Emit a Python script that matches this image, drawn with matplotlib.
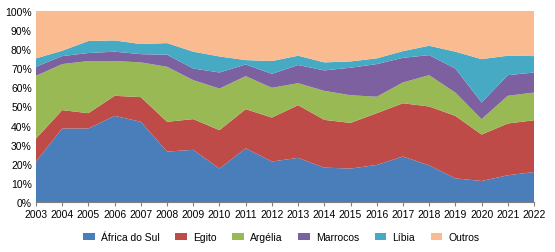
import matplotlib
matplotlib.use("Agg")
import matplotlib.pyplot as plt
from matplotlib.patches import Patch
from matplotlib.ticker import PercentFormatter

plt.rcParams["font.family"] = ["Liberation Sans", "DejaVu Sans"]

years = list(range(2003, 2023))

africa_sul = [21.2, 38.5, 38.5, 45.1, 42.0, 26.4, 27.3, 17.5, 28.1, 21.2,
              23.1, 18.0, 17.5, 19.4, 23.8, 19.2, 12.4, 11.0, 14.0, 15.7]
egito = [12.0, 9.6, 8.0, 10.5, 12.9, 15.6, 16.1, 20.1, 20.5, 23.0,
         27.6, 25.0, 23.9, 27.1, 27.9, 30.8, 32.7, 24.3, 27.1, 27.1]
argelia = [32.9, 24.1, 27.3, 18.2, 18.2, 28.8, 20.4, 21.8, 17.3, 15.6,
           11.5, 15.2, 14.5, 8.6, 10.9, 16.4, 12.2, 8.1, 14.5, 14.5]
marrocos = [4.7, 4.2, 4.2, 4.9, 4.3, 6.3, 6.1, 8.4, 6.1, 7.3,
            9.5, 10.7, 14.4, 17.1, 12.9, 10.5, 12.6, 8.7, 10.8, 10.5]
libia = [4.4, 2.8, 6.3, 5.9, 5.3, 6.1, 8.8, 8.4, 2.3, 6.7,
         4.9, 4.2, 3.3, 3.0, 3.5, 4.9, 8.8, 22.7, 10.2, 8.6]
outros = [100 - sum(v) for v in zip(africa_sul, egito, argelia, marrocos, libia)]

labels = ["África do Sul", "Egito", "Argélia", "Marrocos", "Líbia", "Outros"]
colors = ["#4A7EBB", "#BE4B48", "#98B954", "#7D60A0", "#46AAC5", "#F9BB8F"]

fig = plt.figure(figsize=(5.55, 2.53), dpi=100)
ax = fig.add_axes([36 / 555, 1 - 203 / 253, 498 / 555, 191 / 253])

ax.stackplot(years, africa_sul, egito, argelia, marrocos, libia, outros,
             colors=colors, linewidth=0)

ax.set_xlim(years[0], years[-1])
ax.set_ylim(0, 100)
ax.set_xticks(years)
ax.set_xticklabels([str(y) for y in years], fontsize=7.5)
ax.set_yticks(range(0, 101, 10))
ax.yaxis.set_major_formatter(PercentFormatter(decimals=0))
ax.tick_params(axis="y", length=0, labelsize=7.5, pad=3)
ax.tick_params(axis="x", length=3, width=0.8, color="#808080", pad=2)
for side in ["top", "right", "left"]:
    ax.spines[side].set_visible(False)
ax.spines["bottom"].set_color("#808080")
ax.spines["bottom"].set_linewidth(0.8)

handles = [Patch(facecolor=c, edgecolor="none") for c in colors]
fig.legend(handles, labels, loc="center", bbox_to_anchor=(0.507, 15 / 253),
           ncol=6, frameon=False, fontsize=7.5, handlelength=1.1, handleheight=0.6,
           columnspacing=1.5, handletextpad=0.6)

fig.savefig("out.png", dpi=100)
